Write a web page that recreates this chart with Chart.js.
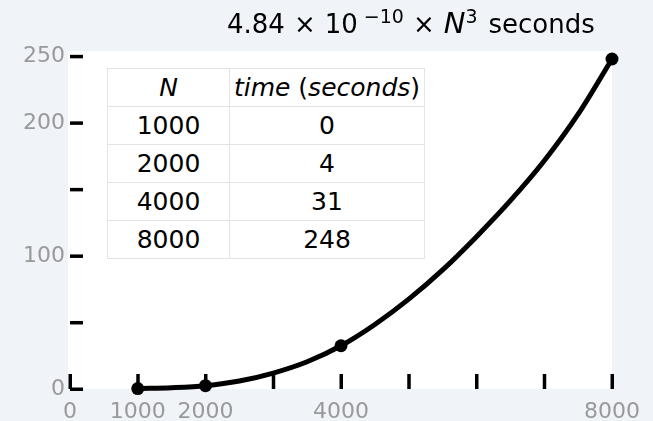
<!DOCTYPE html>
<html>
<head>
<meta charset="utf-8">
<script src="https://cdn.jsdelivr.net/npm/chart.js@4.4.0/dist/chart.umd.min.js"></script>
<style>
    html, body { margin: 0; padding: 0; background: #f0f4f8; }
    #wrap { position: relative; width: 653px; height: 421px; font-family: 'DejaVu Sans', sans-serif; }
    #chart { position: absolute; left: 0; top: 0; }
    #title { position: absolute; left: 227px; top: 8px; font-size: 26px; line-height: 30px; color: #000; white-space: nowrap; }
    #title sup { font-size: 19px; vertical-align: 10px; line-height: 0; }
    #title .op { margin: 0 9px; }
    #title i { font-size: 29px; }
    #title .unit { margin-left: 11px; }
    #table { position: absolute; left: 107px; top: 68px; border-collapse: collapse; font-size: 25px; background: #fff; }
    #table td { border: 1px solid #e3e3e3; height: 37px; padding: 0; text-align: center; line-height: 30px; }
    #table td:first-child { width: 121px; }
    #table td:last-child { width: 194px; }
</style>
</head>
<body>
<div id="wrap">
    <canvas id="chart" width="653" height="421"></canvas>
    <div id="title">4.84<span class="op">×</span>10<sup> −10</sup><span class="op">×</span><i>N</i><sup>3</sup><span class="unit">seconds</span></div>
    <table id="table"></table>
</div>
<script>
// table contents
const tableN = [1000, 2000, 4000, 8000];
const tableTime = [0, 4, 31, 248];

// measured points as drawn
const pointN = [1000, 2000, 4000, 8000];
const pointTime = [0.3, 2.5, 32.5, 248];

// fitted curve
const curveN = [1000, 1500, 2000, 2500, 3000, 3500, 4000, 4500, 5000, 5500, 6000, 6500, 7000, 7500, 8000];
const curveTime = [0.3, 1.0, 2.5, 6.0, 12.0, 20.5, 32.5, 48.5, 67.5, 89.5, 114.5, 141.5, 171.5, 206.5, 248];

// axes
const xTicks = [0, 1000, 2000, 3000, 4000, 5000, 6000, 7000, 8000];
const xTickLabels = [0, 1000, 2000, 4000, 8000];
const yTicks = [0, 50, 100, 150, 200, 250];
const yTickLabels = [0, 100, 200, 250];

function buildTable() {
    const t = document.getElementById('table');
    let html = '<tr><td><i>N</i></td><td><i>time</i> (<i>seconds</i>)</td></tr>';
    tableN.forEach((n, i) => {
        html += '<tr><td>' + n + '</td><td>' + tableTime[i] + '</td></tr>';
    });
    t.innerHTML = html;
}

// white plot area + inward tick marks
const plotDecor = {
    id: 'plotDecor',
    beforeDraw(chart) {
        const { ctx, chartArea: a } = chart;
        ctx.save();
        ctx.fillStyle = '#ffffff';
        ctx.fillRect(a.left - 2, a.top, a.right - a.left + 2, a.bottom - a.top);
        ctx.restore();
    },
    beforeDatasetsDraw(chart) {
        const { ctx, chartArea: a, scales } = chart;
        ctx.save();
        ctx.fillStyle = '#000';
        yTicks.forEach(v => {
            const py = scales.y.getPixelForValue(v);
            ctx.fillRect(a.left, py - 1.5, 13, 3.5);
        });
        xTicks.forEach(v => {
            const px = scales.x.getPixelForValue(v);
            ctx.fillRect(px - 1.5, a.bottom - 15, 3.5, 15);
        });
        ctx.restore();
    }
};

function init() {
    buildTable();

    new Chart(document.getElementById('chart'), {
        type: 'scatter',
        data: {
            datasets: [
                {
                    data: curveN.map((n, i) => ({ x: n, y: curveTime[i] })),
                    showLine: true,
                    borderColor: '#000',
                    borderWidth: 5,
                    pointRadius: 0,
                    cubicInterpolationMode: 'monotone',
                    clip: false
                },
                {
                    data: pointN.map((n, i) => ({ x: n, y: pointTime[i] })),
                    showLine: false,
                    pointRadius: 6.5,
                    pointBackgroundColor: '#000',
                    pointBorderWidth: 0,
                    clip: false
                }
            ]
        },
        options: {
            responsive: false,
            animation: false,
            layout: { padding: { top: 51, right: 41, left: 0, bottom: 0 } },
            plugins: { legend: { display: false }, tooltip: { enabled: false } },
            scales: {
                x: {
                    type: 'linear',
                    min: 0,
                    max: 8000,
                    grid: { display: false, drawTicks: false },
                    border: { display: false },
                    afterBuildTicks: s => { s.ticks = xTicks.map(v => ({ value: v })); },
                    afterFit: s => { s.height = 32; },
                    ticks: {
                        autoSkip: false,
                        maxRotation: 0,
                        padding: 10,
                        color: '#999',
                        font: { family: 'DejaVu Sans', size: 22 },
                        callback: v => xTickLabels.includes(v) ? String(v) : ''
                    }
                },
                y: {
                    min: 0,
                    max: 254,
                    grid: { display: false, drawTicks: false },
                    border: { display: false },
                    afterBuildTicks: s => { s.ticks = yTicks.map(v => ({ value: v })); },
                    afterFit: s => { s.width = 70; },
                    ticks: {
                        autoSkip: false,
                        padding: 5,
                        color: '#999',
                        font: { family: 'DejaVu Sans', size: 22 },
                        callback: v => yTickLabels.includes(v) ? String(v) : ''
                    }
                }
            }
        },
        plugins: [plotDecor]
    });
}

init();
</script>
</body>
</html>
